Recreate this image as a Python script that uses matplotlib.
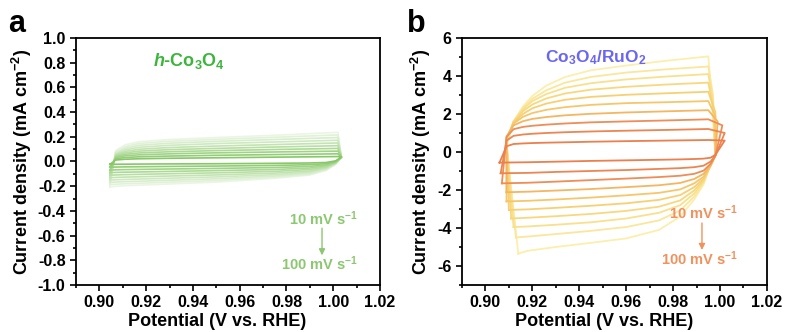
import numpy as np
import matplotlib
matplotlib.use('Agg')
import matplotlib.pyplot as plt
from matplotlib.ticker import MultipleLocator, FormatStrFormatter

plt.rcParams['font.family'] = ['Liberation Sans', 'DejaVu Sans']
plt.rcParams['font.weight'] = 'bold'
plt.rcParams['axes.unicode_minus'] = False
plt.rcParams['mathtext.fontset'] = 'custom'
plt.rcParams['mathtext.rm'] = 'Liberation Sans:bold'
plt.rcParams['mathtext.bf'] = 'Liberation Sans:bold'
plt.rcParams['mathtext.it'] = 'Liberation Sans:bold:italic'

# scan rates (mV/s)
scan_rates = [10, 20, 30, 40, 50, 60, 70, 80, 90, 100]

# ---- panel a: h-Co3O4 ----
a_up_E = [0.907, 0.911, 0.917, 0.93, 0.95, 0.975, 1.002]
a_up_j = [
    [0.012, 0.018, 0.022, 0.026, 0.030, 0.035, 0.040],
    [0.022, 0.032, 0.038, 0.044, 0.050, 0.056, 0.062],
    [0.032, 0.046, 0.054, 0.062, 0.070, 0.077, 0.084],
    [0.040, 0.058, 0.069, 0.079, 0.088, 0.097, 0.106],
    [0.048, 0.070, 0.084, 0.096, 0.106, 0.117, 0.128],
    [0.055, 0.082, 0.099, 0.113, 0.125, 0.137, 0.150],
    [0.062, 0.094, 0.115, 0.131, 0.145, 0.158, 0.172],
    [0.070, 0.106, 0.131, 0.148, 0.163, 0.178, 0.194],
    [0.080, 0.120, 0.146, 0.164, 0.179, 0.196, 0.215],
    [0.090, 0.135, 0.160, 0.178, 0.194, 0.212, 0.236],
]
a_low_E = [1.0035, 1.001, 0.997, 0.99, 0.975, 0.95, 0.925, 0.91]
a_low_j = [
    [0.035, 0.005, -0.008, -0.012, -0.015, -0.018, -0.020, -0.022],
    [0.035, 0.000, -0.018, -0.026, -0.032, -0.037, -0.041, -0.044],
    [0.035, -0.004, -0.028, -0.040, -0.049, -0.056, -0.062, -0.066],
    [0.035, -0.008, -0.036, -0.053, -0.065, -0.074, -0.082, -0.087],
    [0.035, -0.011, -0.044, -0.065, -0.080, -0.092, -0.101, -0.107],
    [0.035, -0.014, -0.051, -0.077, -0.094, -0.109, -0.120, -0.127],
    [0.035, -0.017, -0.057, -0.087, -0.107, -0.125, -0.138, -0.146],
    [0.035, -0.019, -0.063, -0.096, -0.118, -0.140, -0.155, -0.164],
    [0.035, -0.021, -0.068, -0.104, -0.128, -0.154, -0.171, -0.181],
    [0.035, -0.023, -0.072, -0.110, -0.136, -0.167, -0.186, -0.197],
]
a_left_E = [0.9045] * 10
a_left_j = [-0.023, -0.046, -0.069, -0.090, -0.111, -0.131, -0.150, -0.169, -0.187, -0.205]
a_colors = ['#86C767', '#93CD77', '#A0D386', '#ACD995', '#B8DEA4',
            '#C3E3B2', '#CEE9C0', '#D8EDCD', '#E1F2D9', '#EAF6E4']

# ---- panel b: Co3O4/RuO2 ----
b_up_E = [0.909, 0.912, 0.916, 0.92, 0.926, 0.934, 0.945, 0.96, 0.977, 0.995]
b_up_j = [
    [0.30, 0.42, 0.45, 0.47, 0.49, 0.51, 0.54, 0.57, 0.60, 0.63],
    [0.60, 0.85, 0.92, 0.96, 1.00, 1.04, 1.08, 1.12, 1.16, 1.21],
    [0.80, 1.20, 1.32, 1.38, 1.44, 1.50, 1.56, 1.61, 1.66, 1.72],
    [0.80, 1.40, 1.62, 1.74, 1.84, 1.93, 2.01, 2.08, 2.14, 2.20],
    [0.75, 1.50, 1.85, 2.05, 2.22, 2.36, 2.48, 2.57, 2.62, 2.68],
    [0.70, 1.55, 2.00, 2.30, 2.55, 2.75, 2.90, 3.01, 3.09, 3.17],
    [0.60, 1.60, 2.15, 2.50, 2.82, 3.08, 3.28, 3.43, 3.55, 3.65],
    [0.50, 1.60, 2.25, 2.68, 3.05, 3.38, 3.62, 3.82, 3.97, 4.10],
    [0.40, 1.60, 2.32, 2.80, 3.25, 3.65, 3.95, 4.18, 4.35, 4.50],
    [0.30, 1.60, 2.40, 2.95, 3.50, 3.95, 4.30, 4.55, 4.80, 5.03],
]
b_right_E = [1.002, 1.002, 1.001, 0.999, 0.998, 0.998, 0.997, 0.997, 0.997, 0.996]
b_right_j = [0.6, 1.0, 1.4, 1.6, 1.9, 2.1, 2.4, 2.7, 3.0, 3.5]
b_low_E = [0.998, 0.996, 0.993, 0.989, 0.983, 0.974, 0.96, 0.945, 0.93, 0.918]
b_low_j = [
    [-0.15, -0.30, -0.35, -0.37, -0.39, -0.41, -0.44, -0.47, -0.51, -0.54],
    [-0.20, -0.50, -0.72, -0.80, -0.85, -0.89, -0.95, -1.00, -1.05, -1.10],
    [-0.20, -0.62, -0.98, -1.15, -1.25, -1.32, -1.40, -1.48, -1.56, -1.62],
    [-0.20, -0.70, -1.15, -1.42, -1.63, -1.75, -1.85, -1.95, -2.03, -2.09],
    [-0.20, -0.72, -1.30, -1.65, -1.97, -2.15, -2.28, -2.40, -2.50, -2.57],
    [-0.15, -0.72, -1.40, -1.85, -2.27, -2.52, -2.70, -2.83, -2.94, -3.02],
    [-0.15, -0.70, -1.48, -2.02, -2.55, -2.88, -3.10, -3.26, -3.38, -3.46],
    [-0.10, -0.68, -1.55, -2.18, -2.80, -3.20, -3.50, -3.70, -3.83, -3.92],
    [-0.10, -0.65, -1.62, -2.35, -3.08, -3.60, -3.95, -4.15, -4.32, -4.45],
    [-0.10, -0.62, -1.70, -2.50, -3.40, -4.10, -4.55, -4.78, -5.00, -5.20],
]
b_left_E = [0.906, 0.9065, 0.907, 0.909, 0.909, 0.910, 0.911, 0.912, 0.913, 0.914]
b_left_j = [-0.56, -1.12, -1.65, -2.12, -2.60, -3.05, -3.50, -3.95, -4.50, -5.35]
b_colors = ['#EB7F4E', '#EC8552', '#EE8D57', '#F4B661', '#F6C76A',
            '#F7D073', '#F8D87F', '#F9E08D', '#FAE79C', '#FBEFAE']


def draw_loops(ax, left_E, left_j, up_E, up_j, low_E, low_j, colors,
               right_E=None, right_j=None, lw=1.3):
    # biggest loop first so the slow scans sit on top
    for k in range(len(scan_rates) - 1, -1, -1):
        E = [left_E[k]] + list(up_E)
        j = [left_j[k]] + list(up_j[k])
        if right_E is not None:
            E += [right_E[k]]
            j += [right_j[k]]
        E += list(low_E) + [left_E[k]]
        j += list(low_j[k]) + [left_j[k]]
        ax.plot(E, j, color=colors[k], lw=lw, solid_joinstyle='round')


def style_axis(ax, ymin, ymax, ymaj, ymin_step, yfmt):
    ax.set_xlim(0.89, 1.02)
    ax.set_ylim(ymin, ymax)
    ax.xaxis.set_major_locator(MultipleLocator(0.02))
    ax.xaxis.set_minor_locator(MultipleLocator(0.01))
    ax.xaxis.set_major_formatter(FormatStrFormatter('%.2f'))
    ax.yaxis.set_major_locator(MultipleLocator(ymaj))
    ax.yaxis.set_minor_locator(MultipleLocator(ymin_step))
    ax.yaxis.set_major_formatter(FormatStrFormatter(yfmt))
    ax.tick_params(which='both', direction='out', top=False, right=False,
                   width=1.2, labelsize=11.5)
    ax.tick_params(which='major', length=4)
    ax.tick_params(which='minor', length=2.5)
    for s in ax.spines.values():
        s.set_linewidth(1.3)
    for lab in ax.get_xticklabels() + ax.get_yticklabels():
        lab.set_fontweight('bold')
    ax.set_xlabel('Potential (V vs. RHE)', fontsize=13, fontweight='bold', labelpad=2)
    ax.xaxis.label.set_x(0.465)
    ax.set_ylabel('Current density (mA cm$^{-2}$)', fontsize=13, fontweight='bold', labelpad=3)


fig = plt.figure(figsize=(7.85, 3.32), dpi=100)
ax1 = fig.add_axes([0.0968, 0.1416, 0.3873, 0.7440])
ax2 = fig.add_axes([0.5885, 0.1416, 0.3885, 0.7440])

# panel a
draw_loops(ax1, a_left_E, a_left_j, a_up_E, a_up_j, a_low_E, a_low_j, a_colors, lw=1.2)
style_axis(ax1, -1.0, 1.0, 0.2, 0.1, '%.1f')
ax1.text(0.9383, 0.81, '$\\mathit{h}$-Co$_3$O$_4$', color='#3DB53D', fontsize=13,
         fontweight='bold', ha='center', va='center')
ax1.text(1.0106, -0.46, '10 mV s$^{-1}$', color='#8CC870', fontsize=10.5,
         fontweight='bold', ha='right', va='center')
ax1.text(1.0106, -0.826, '100 mV s$^{-1}$', color='#8CC870', fontsize=10.5,
         fontweight='bold', ha='right', va='center')
ax1.annotate('', xy=(0.9952, -0.76), xytext=(0.9952, -0.54),
             arrowprops=dict(arrowstyle='-|>', color='#8CC870', lw=1.0,
                             mutation_scale=9, shrinkA=0, shrinkB=0))

# panel b
draw_loops(ax2, b_left_E, b_left_j, b_up_E, b_up_j, b_low_E, b_low_j, b_colors,
           right_E=b_right_E, right_j=b_right_j, lw=1.3)
style_axis(ax2, -7, 6, 2, 1, '%d')
ax2.text(0.9469, 4.97, 'Co$_3$O$_4$/RuO$_2$', color='#6B66F2', fontsize=12.5,
         fontweight='bold', ha='center', va='center')
ax2.text(1.0077, -3.18, '10 mV s$^{-1}$', color='#F0925E', fontsize=10.5,
         fontweight='bold', ha='right', va='center')
ax2.text(1.0077, -5.6, '100 mV s$^{-1}$', color='#F0925E', fontsize=10.5,
         fontweight='bold', ha='right', va='center')
ax2.annotate('', xy=(0.9923, -5.16), xytext=(0.9923, -3.74),
             arrowprops=dict(arrowstyle='-|>', color='#F0925E', lw=1.0,
                             mutation_scale=9, shrinkA=0, shrinkB=0))

fig.text(0.010, 0.904, 'a', fontsize=22, fontweight='bold', va='baseline')
fig.text(0.519, 0.904, 'b', fontsize=22, fontweight='bold', va='baseline')

fig.savefig('out.png', dpi=100)
